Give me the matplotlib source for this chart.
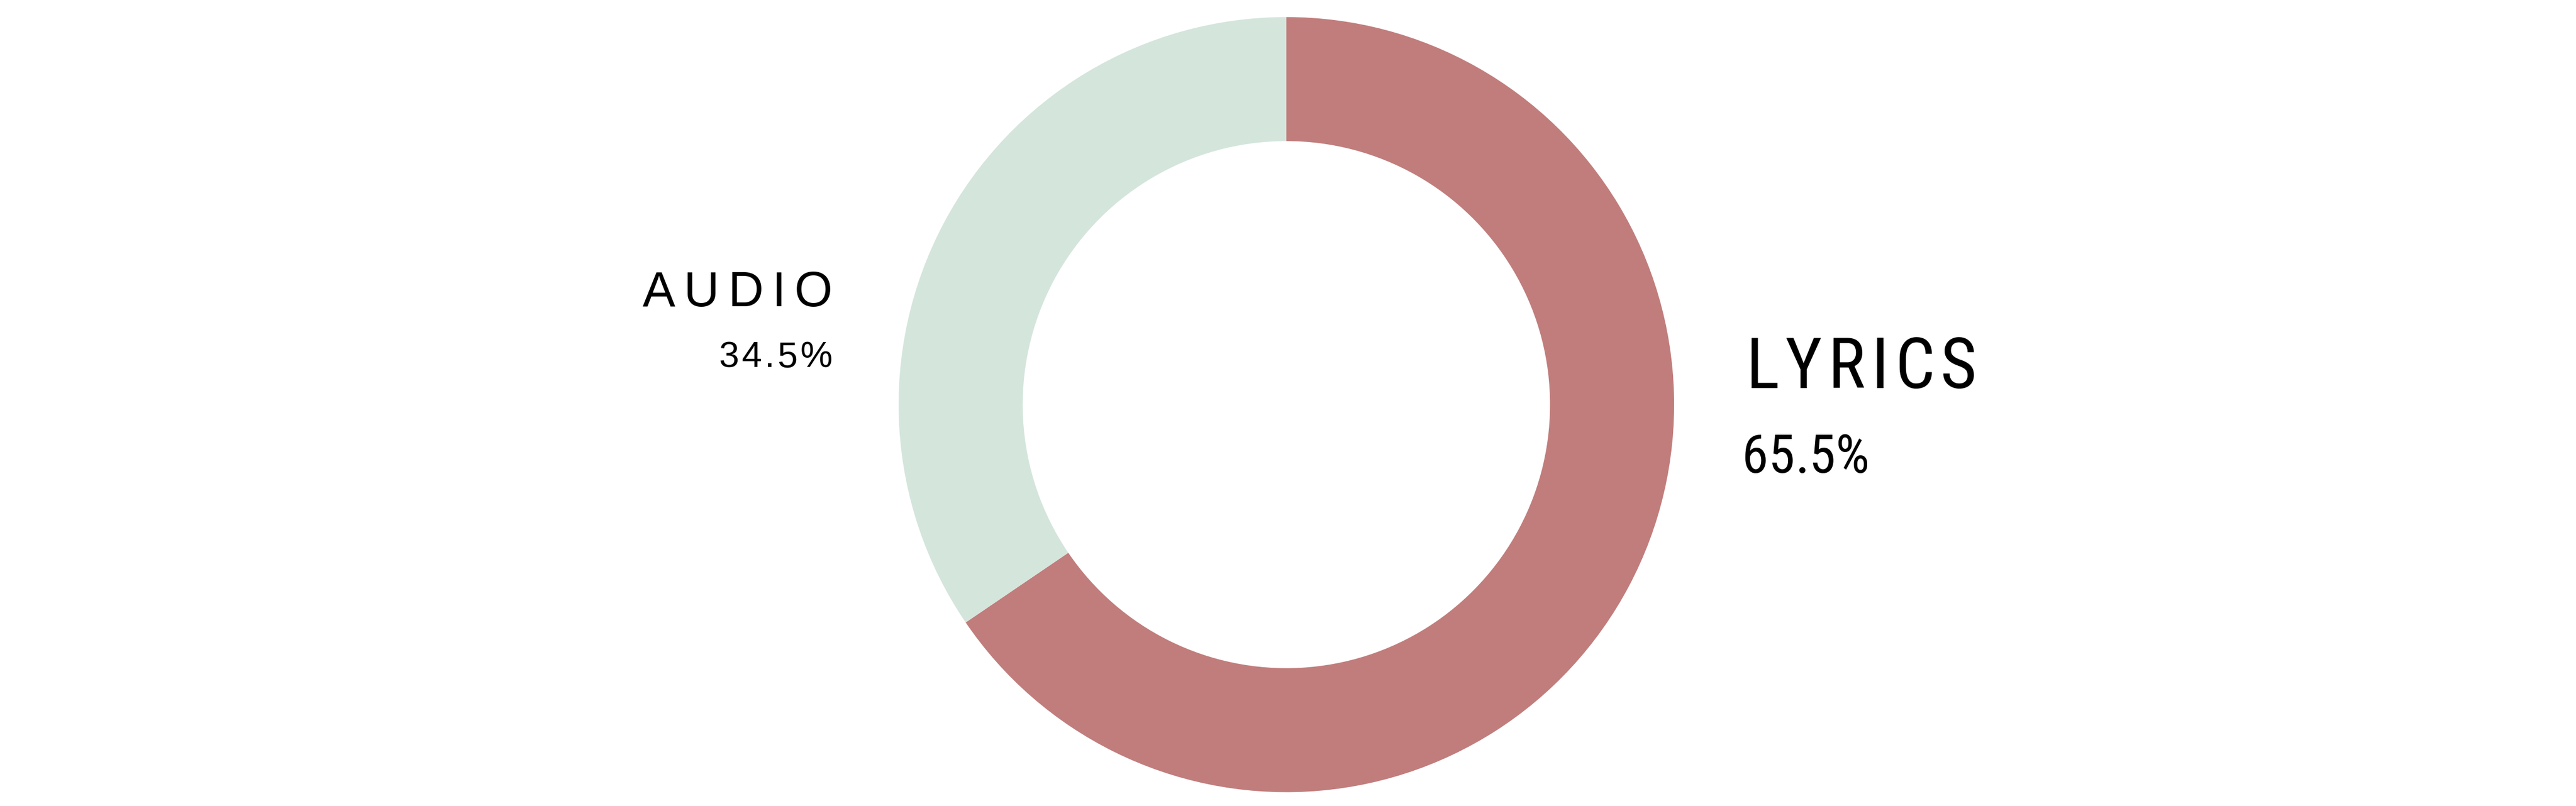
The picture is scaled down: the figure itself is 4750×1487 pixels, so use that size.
import matplotlib
matplotlib.use("Agg")
import matplotlib.pyplot as plt
import matplotlib.transforms as mtransforms
from matplotlib import font_manager as fm

# data
categories = ["LYRICS", "AUDIO"]
shares = [65.5, 34.5]
colors = ["#C07D7C", "#D4E5DC"]

W, H = 4750, 1487
DPI = 100
fig = plt.figure(figsize=(W / DPI, H / DPI), dpi=DPI, facecolor="white")

# donut
cx, cy, r = 2372, 746.5, 715
ax = fig.add_axes([(cx - r) / W, (H - cy - r) / H, 2 * r / W, 2 * r / H])
ax.pie(shares, colors=colors, startangle=90, counterclock=False,
       radius=1, wedgeprops=dict(width=0.32, linewidth=0, antialiased=True))
ax.set_xlim(-1, 1)
ax.set_ylim(-1, 1)
ax.set_aspect("equal")
ax.axis("off")

ident = mtransforms.IdentityTransform()
renderer = fig.canvas.get_renderer()


def ink_width(s, fp):
    t = fig.text(0, 0, s, transform=ident, fontproperties=fp)
    w = t.get_window_extent(renderer).width
    t.remove()
    return w


def tracked(s, x, y_top, size, family, span, ha="left"):
    """letter-spaced text whose ink spans `span` px; x is the left or right ink edge, y the baseline from the top"""
    fp = fm.FontProperties(family=family, size=size)
    n = len(s)
    full = ink_width(s, fp)
    # natural ink-left offset of each character inside the whole string
    offs = [ink_width(s[:i + 1], fp) - ink_width(s[i], fp) for i in range(n)]
    track = (span - full) / (n - 1)
    x0 = x if ha == "left" else x - span
    for i, c in enumerate(s):
        fig.text(x0 + offs[i] + i * track, H - y_top, c, transform=ident,
                 fontproperties=fp, ha="left", va="baseline", color="black")


# left label (AUDIO)
tracked(categories[1], 1535, 565, 65, "Liberation Sans", 350, ha="right")
tracked(f"{shares[1]}%", 1535, 677, 48, "Liberation Sans", 210, ha="right")

# right label (LYRICS)
tracked(categories[0], 3219, 716, 93, "Roboto Condensed", 426, ha="left")
tracked(f"{shares[0]}%", 3212, 872, 71, "Roboto Condensed", 235, ha="left")

fig.savefig("out.png", dpi=DPI, facecolor="white")
